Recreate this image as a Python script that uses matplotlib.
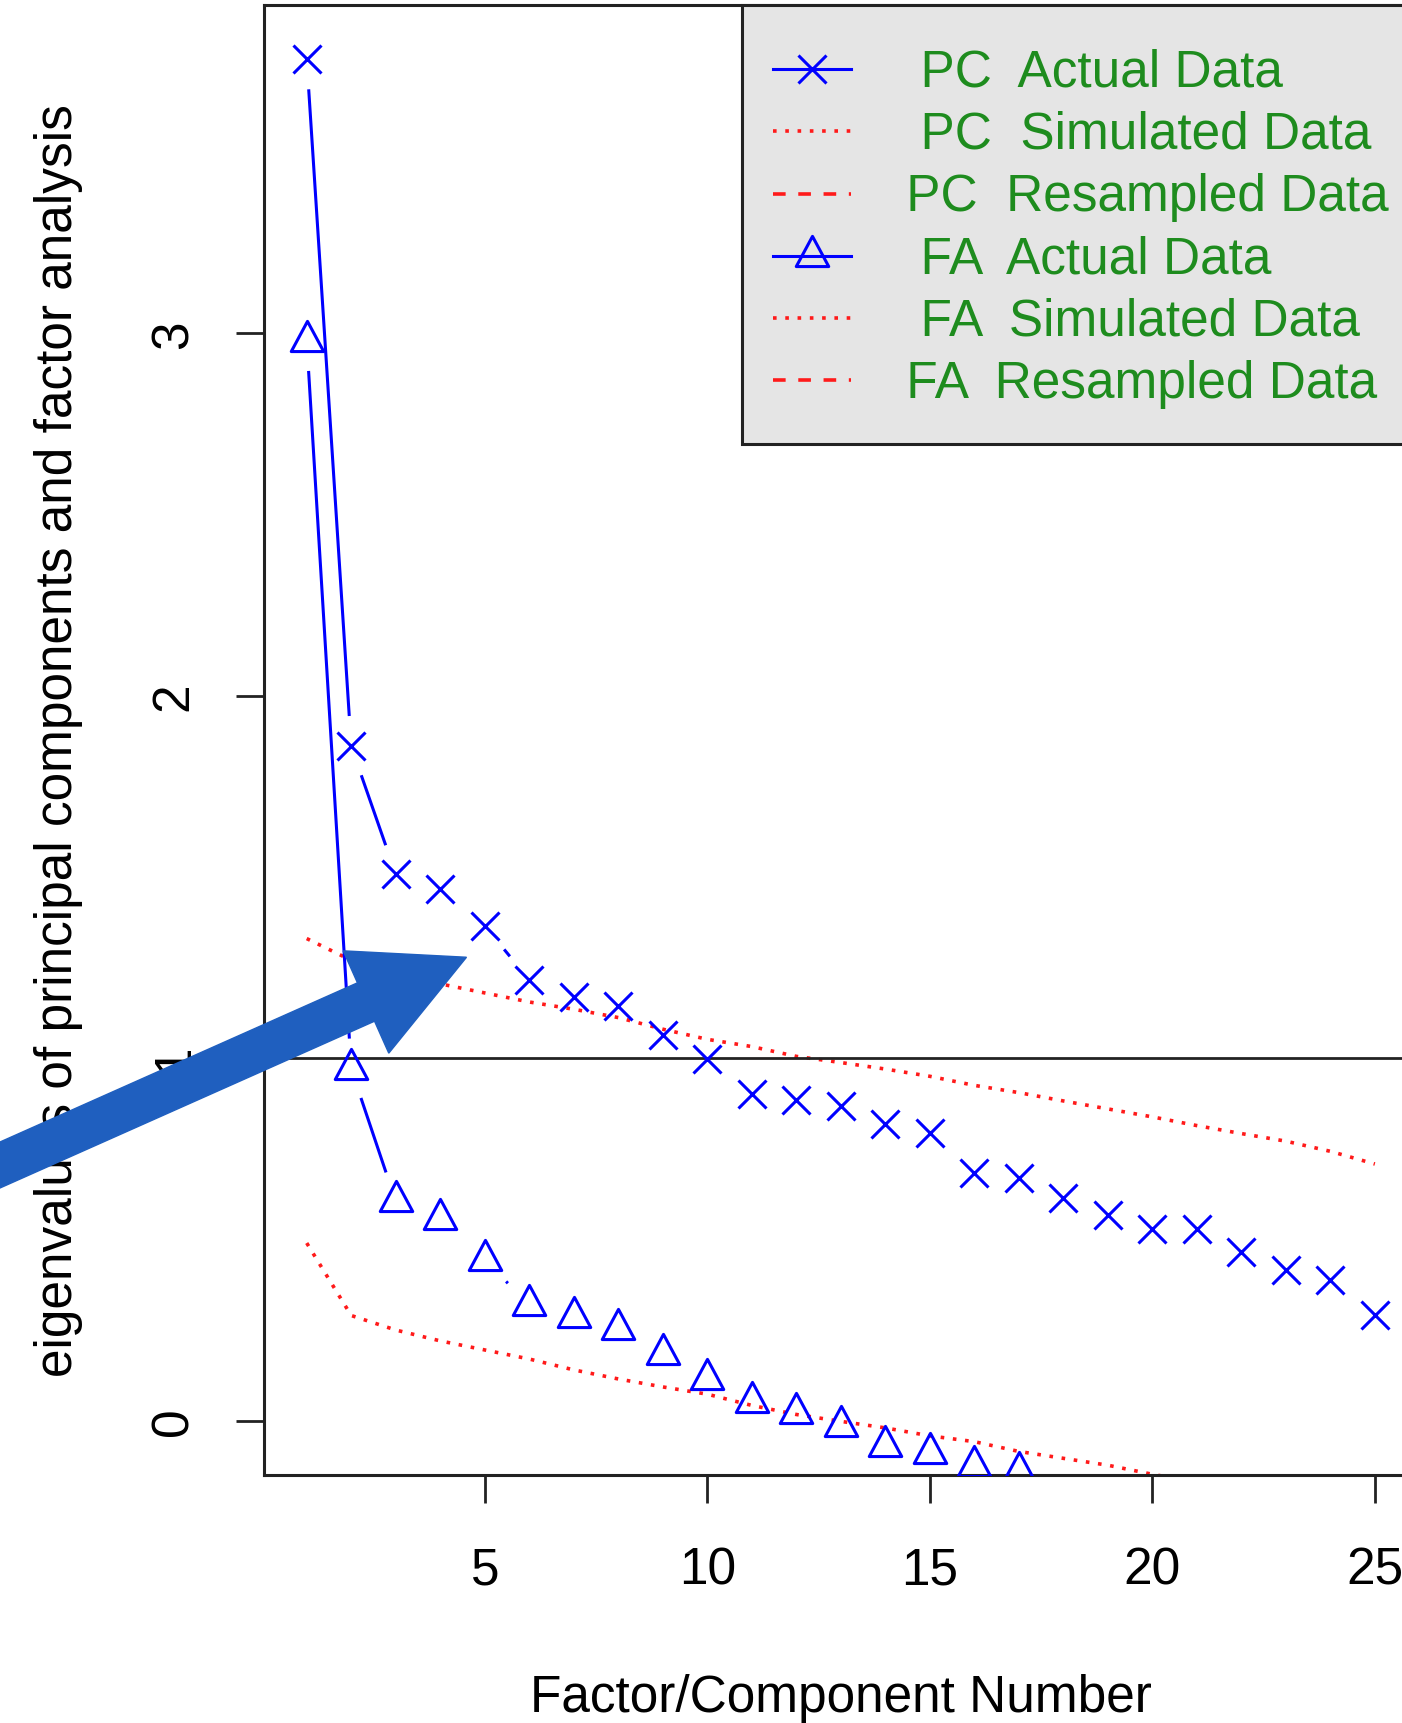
"""
Parallel analysis scree plot (psych::fa.parallel style) with the blue call-out arrow.
Writes out.png at 1402x1724 px.
"""
import matplotlib

matplotlib.use("Agg")
import matplotlib.pyplot as plt
import numpy as np
from matplotlib.lines import Line2D
from matplotlib.patches import Polygon
from matplotlib.path import Path
from matplotlib.transforms import IdentityTransform

plt.rcParams["font.family"] = ["Liberation Sans", "DejaVu Sans"]

# ---- data ----------------------------------------------------------------
pc_actual = [3.757, 1.860, 1.508, 1.468, 1.365, 1.216, 1.170, 1.143, 1.064, 0.997,
             0.900, 0.884, 0.869, 0.818, 0.793, 0.684, 0.669, 0.614, 0.568, 0.529,
             0.529, 0.465, 0.416, 0.389, 0.292]
pc_simulated = [1.330, 1.270, 1.235, 1.205, 1.180, 1.155, 1.135, 1.112, 1.080, 1.052,
                1.032, 1.005, 0.988, 0.970, 0.950, 0.925, 0.905, 0.882, 0.860, 0.838,
                0.814, 0.792, 0.771, 0.743, 0.708]
fa_actual = [2.980, 0.970, 0.605, 0.556, 0.444, 0.319, 0.287, 0.252, 0.184, 0.115,
             0.051, 0.022, -0.015, -0.071, -0.089, -0.126, -0.142]
fa_simulated = [0.490, 0.290, 0.250, 0.220, 0.195, 0.170, 0.140, 0.115, 0.093, 0.073,
                0.042, 0.017, -0.002, -0.020, -0.042, -0.058, -0.085, -0.104, -0.123,
                -0.148, -0.170]

legend_labels = ["  PC  Actual Data", "  PC  Simulated Data", " PC  Resampled Data",
                 "  FA  Actual Data", "  FA  Simulated Data", " FA  Resampled Data"]
x_ticks = [5, 10, 15, 20, 25]
y_ticks = [0, 1, 2, 3]
x_label = "Factor/Component Number"
y_label = "eigenvalues of principal components and factor analysis"

# ---- style ----------------------------------------------------------------
BLUE = "#0000ff"
RED = "#ff1a1a"
GREEN = "#1e8c1e"
ARROW = "#1f5fbf"
FS = 37
LW = 2.2
RED_LW = 2.6
DOTTED = (0, (1, 2.4))
DASHED = (0, (3.5, 3.5))
GAP_PX = 30.5  # R type="b" leaves this gap around each point

TRI = Path([(0, 0.62), (-0.5, -0.31), (0.5, -0.31), (0, 0.62)],
           [Path.MOVETO, Path.LINETO, Path.LINETO, Path.CLOSEPOLY])


def plot_type_b(ax, y, marker, ms):
    """Points joined by line pieces that stop short of each point."""
    x = np.arange(1, len(y) + 1)
    ax.plot(x, y, ls="none", marker=marker, ms=ms, mfc="none", mec=BLUE, mew=LW, zorder=3)
    pts = ax.transData.transform(np.column_stack([x, y]))
    inv = ax.transData.inverted()
    for p0, p1 in zip(pts[:-1], pts[1:]):
        d = p1 - p0
        L = np.hypot(*d)
        if L <= 2 * GAP_PX:
            continue
        u = d / L
        seg = inv.transform(np.vstack([p0 + GAP_PX * u, p1 - GAP_PX * u]))
        ax.plot(seg[:, 0], seg[:, 1], color=BLUE, lw=LW, solid_capstyle="butt", zorder=3)


fig = plt.figure(figsize=(14.02, 17.24), dpi=100)
ax = fig.add_axes([264 / 1402, 248 / 1724, 1153.6 / 1402, 1470.5 / 1724])
ax.set_xlim(0.04, 25.96)
ax.set_ylim(-0.150, 3.907)

plot_type_b(ax, pc_actual, "x", 19.5)
plot_type_b(ax, fa_actual, TRI, 29)
ax.plot(np.arange(1, len(pc_simulated) + 1), pc_simulated, color=RED, lw=RED_LW, ls=DOTTED)
ax.plot(np.arange(1, len(fa_simulated) + 1), fa_simulated, color=RED, lw=RED_LW, ls=DOTTED)
ax.axhline(1, color="#222222", lw=2.0)

ax.set_xticks(x_ticks)
ax.set_yticks(y_ticks)
ax.tick_params(length=20, width=2, color="#222222", labelsize=FS)
ax.tick_params(axis="x", pad=31)
ax.tick_params(axis="y", pad=27, labelrotation=90)
for lab in ax.get_yticklabels():
    lab.set_va("center")
for sp in ax.spines.values():
    sp.set_linewidth(2.2)
    sp.set_color("#222222")

ax.set_xlabel(x_label, fontsize=FS)
ax.set_ylabel(y_label, fontsize=FS)
ax.xaxis.set_label_coords(0.5, -0.1345)
ax.yaxis.set_label_coords(-0.1573, 0.5)

handles = [
    Line2D([], [], color=BLUE, lw=LW, marker="x", ms=19.5, mew=LW),
    Line2D([], [], color=RED, lw=RED_LW, ls=DOTTED),
    Line2D([], [], color=RED, lw=RED_LW, ls=DASHED),
    Line2D([], [], color=BLUE, lw=LW, marker=TRI, ms=29, mfc="none", mew=LW),
    Line2D([], [], color=RED, lw=RED_LW, ls=DOTTED),
    Line2D([], [], color=RED, lw=RED_LW, ls=DASHED),
]
leg = ax.legend(handles, legend_labels, loc="upper left", bbox_to_anchor=(0.4144, 1.0),
                borderaxespad=0, fontsize=FS, labelcolor=GREEN, fancybox=False,
                facecolor="#e5e5e5", edgecolor="#222222", framealpha=1,
                handlelength=1.52, handletextpad=0.8, borderpad=0.6,
                handleheight=1.6, labelspacing=-0.073)
leg.get_frame().set_linewidth(2.2)
# R draws the legend symbols a little lower relative to the text
for ln in leg.findobj(match=Line2D):
    ln.set_ydata(np.asarray(ln.get_ydata()) - 6.3)

# blue call-out arrow, in figure pixels (origin bottom-left)
tail = np.array([0.0, 558.0])
base = np.array([366.0, 721.0])
u = (base - tail) / np.hypot(*(base - tail))
n = np.array([-u[1], u[0]])
shaft_w, head_w, head_len = 21, 56, 110
start = tail - 300 * u
verts = [start + shaft_w * n, base + shaft_w * n, base + head_w * n,
         base + head_len * u,
         base - head_w * n, base - shaft_w * n, start - shaft_w * n]
fig.add_artist(Polygon(verts, closed=True, transform=IdentityTransform(),
                       facecolor=ARROW, edgecolor=ARROW, lw=1, zorder=10))

fig.savefig("out.png", dpi=100)
